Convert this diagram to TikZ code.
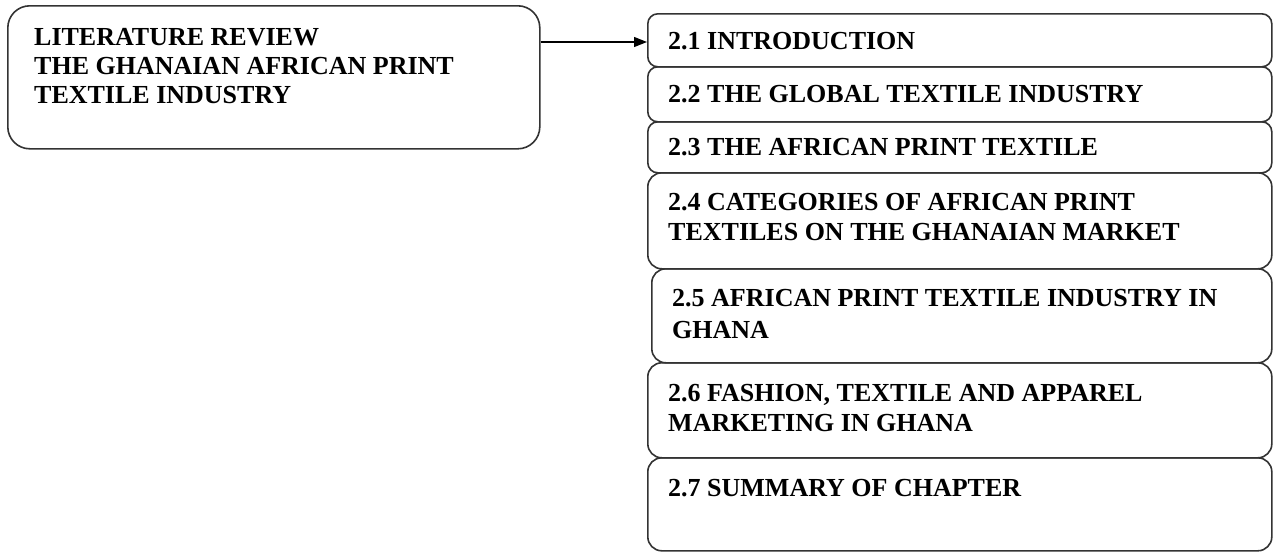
\documentclass[tikz,border=0pt]{standalone}
\usepackage{fontspec}
\setmainfont{Liberation Serif}
\usetikzlibrary{arrows.meta}
\begin{document}
\begin{tikzpicture}[x=1pt,y=-1pt,
  frame/.style={draw=black!80,line width=1.6pt,rounded corners=10pt,
    rectangle,inner sep=0pt,anchor=north west},
  heading/.style={anchor=base west,inner sep=0pt,align=left,
    font=\fontsize{26}{30}\selectfont\bfseries},
  link/.style={draw=black,line width=1.3pt,-{Triangle[length=13pt,width=10pt]}}]
\useasboundingbox (0,0) rectangle (1276,552);

% chapter box on the left
\node[frame,rounded corners=22pt,minimum width=532pt,minimum height=143pt] (lit) at (7,5) {};
% (base of a multi-line node = baseline of its last line)
\node[heading,font=\fontsize{26}{29}\selectfont\bfseries] (littxt) at (34,103)
  {LITERATURE REVIEW\\THE GHANAIAN AFRICAN PRINT\\TEXTILE INDUSTRY};

% stack of section boxes
\node[frame,minimum width=624pt,minimum height=53pt] (s1) at (647,13) {};
\node[frame,minimum width=624pt,minimum height=55pt] (s2) at (647,66) {};
\node[frame,minimum width=624pt,minimum height=51pt] (s3) at (647,121) {};
\node[frame,rounded corners=14pt,minimum width=624pt,minimum height=96pt] (s4) at (647,172) {};
\node[frame,rounded corners=14pt,minimum width=620pt,minimum height=94pt] (s5) at (651,268) {};
\node[frame,rounded corners=14pt,minimum width=624pt,minimum height=95pt] (s6) at (647,362) {};
\node[frame,rounded corners=14pt,minimum width=624pt,minimum height=93pt] (s7) at (647,457) {};

\node[heading] (t1) at (668,49) {2.1 INTRODUCTION};
\node[heading] (t2) at (668,102) {2.2 THE GLOBAL TEXTILE INDUSTRY};
\node[heading] (t3) at (668,155) {2.3 THE AFRICAN PRINT TEXTILE};
\node[heading] (t4) at (668,240) {2.4 CATEGORIES OF AFRICAN PRINT\\TEXTILES ON THE GHANAIAN MARKET};
\node[heading] (t5) at (672,338) {2.5 AFRICAN PRINT TEXTILE INDUSTRY IN\\[2pt]GHANA};
\node[heading] (t6) at (668,431) {2.6 FASHION, TEXTILE AND APPAREL\\MARKETING IN GHANA};
\node[heading] (t7) at (668,496) {2.7 SUMMARY OF CHAPTER};

% connector
\draw[link] (lit.east |- 0,42) -- (s1.west |- 0,42);
\end{tikzpicture}
\end{document}
